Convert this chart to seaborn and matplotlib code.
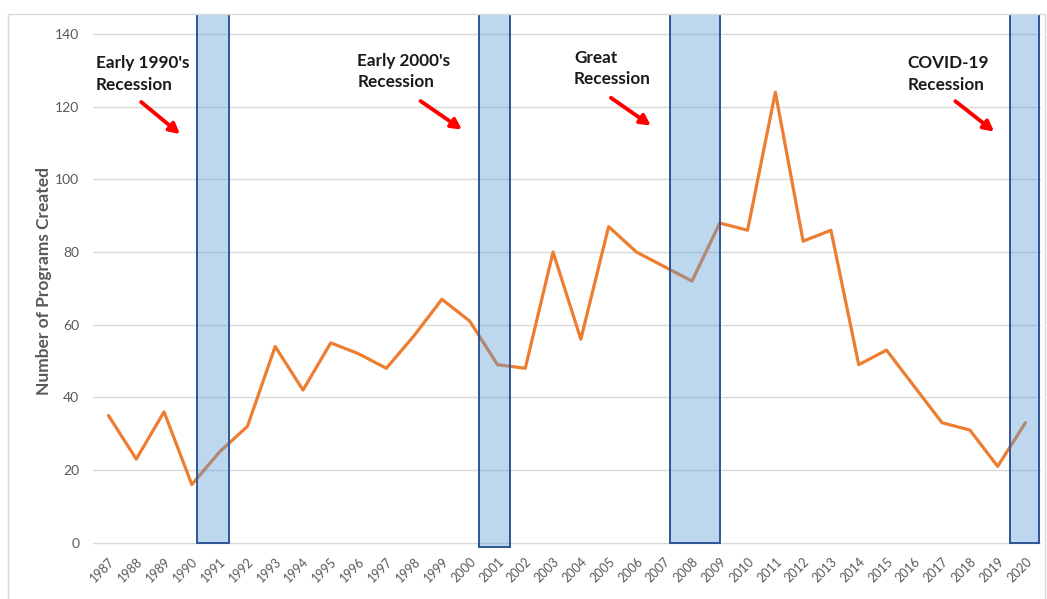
import matplotlib
matplotlib.use("Agg")
import matplotlib.pyplot as plt
from matplotlib.patches import Rectangle
import pandas as pd
import seaborn as sns

# ---------------------------------------------------------------------------
# Data
# ---------------------------------------------------------------------------
years = [str(y) for y in range(1987, 2021)]
programs = [35, 23, 36, 16, 25, 32, 54, 42, 55, 52, 48, 57, 67, 61, 49, 48,
            80, 56, 87, 80, 76, 72, 88, 86, 124, 83, 86, 49, 53, 43, 33, 31,
            21, 33]

# recession shading: (start index, end index, bottom) on the category axis
recession_start = [3.2, 13.35, 20.2, 32.45]
recession_end = [4.35, 14.45, 22.0, 33.5]
recession_bottom = [0, -1.2, 0, 0]

# annotation labels
notes = ["Early 1990's\nRecession", "Early 2000's\nRecession",
         "Great\nRecession", "COVID-19\nRecession"]

df = pd.DataFrame({"year": years, "programs": programs})
df["idx"] = range(len(df))

# ---------------------------------------------------------------------------
# Plot
# ---------------------------------------------------------------------------
sns.set_style("white")
plt.rcParams["font.family"] = ["Lato", "DejaVu Sans"]

fig = plt.figure(figsize=(10.47, 5.99), dpi=100)
ax = fig.add_axes([0.089, 0.085, 0.905, 0.892])

for yv in range(0, 160, 20):
    ax.axhline(yv, color="#d9d9d9", lw=1, zorder=0)

sns.lineplot(data=df, x="idx", y="programs", ax=ax, color="#ed7d31",
             linewidth=2.3, zorder=2)

top = 145.6
for s, e, b in zip(recession_start, recession_end, recession_bottom):
    ax.add_patch(Rectangle((s, b), e - s, top - b, facecolor="#5b9bd5",
                           alpha=0.4, edgecolor="none", zorder=3))
    ax.add_patch(Rectangle((s, b), e - s, top - b, facecolor="none",
                           edgecolor="#2f5597", lw=1.4, zorder=4))

# annotation placement (text left/centre, arrow tail, arrow head)
text_xy = [(-0.45, 129.0), (8.95, 129.7), (16.75, 130.6), (28.75, 129.0)]
tail_xy = [(1.1, 121.8), (11.15, 122.0), (18.0, 122.9), (30.4, 122.0)]
head_xy = [(2.65, 112.0), (12.8, 113.3), (19.6, 114.4), (31.95, 112.7)]
for note, txy, t0, h0 in zip(notes, text_xy, tail_xy, head_xy):
    ax.text(txy[0], txy[1], note, ha="left", va="center", fontsize=12.3,
            fontweight="bold", color="#1a1a1a", linespacing=1.4, zorder=5)
    ax.annotate("", xy=h0, xytext=t0,
                arrowprops=dict(arrowstyle="-|>,head_length=0.6,head_width=0.32",
                                color="#ff0000", lw=2.8), zorder=5)

ax.set_xlim(-0.55, 33.55)
ax.set_ylim(-1.5, top)
ax.set_xticks(df["idx"])
ax.set_xticklabels(years, rotation=45, ha="right", rotation_mode="anchor",
                   fontsize=9, color="#595959")
ax.set_yticks(range(0, 160, 20))
ax.set_yticklabels([str(v) for v in range(0, 160, 20)], fontsize=10,
                   color="#595959")
ax.tick_params(axis="y", length=0, pad=10)
ax.tick_params(axis="x", length=0, pad=5)
ax.set_xlabel("")
ax.set_ylabel("Number of Programs Created", fontsize=12.5, fontweight="bold",
              color="#595959", labelpad=2)
sns.despine(ax=ax, left=True, bottom=True, top=True, right=True)

# outer chart frame
fig.patches.append(Rectangle((8 / 1047, -0.01), 1037 / 1047, 1 - 14 / 599 + 0.01,
                             transform=fig.transFigure, fill=False,
                             edgecolor="#d9d9d9", lw=1))

fig.savefig("out.png", dpi=100)
